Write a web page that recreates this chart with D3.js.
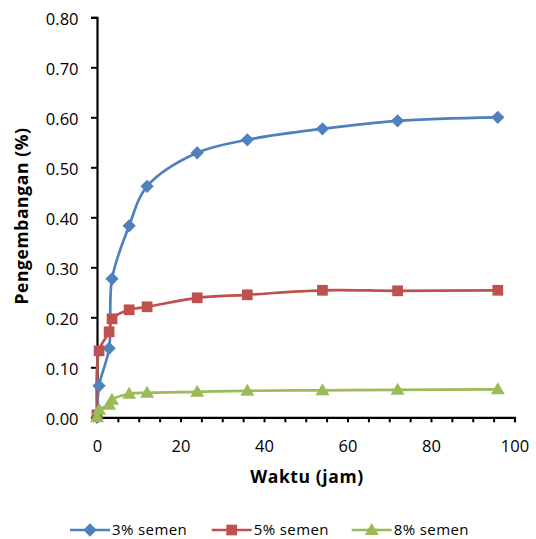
<!DOCTYPE html>
<html>
<head>
<meta charset="utf-8">
<script src="https://cdn.jsdelivr.net/npm/d3@7"></script>
<style>
  html, body { margin: 0; padding: 0; background: #fff; }
  svg { display: block; }
  text { font-family: "Open Sans", Lato, sans-serif; fill: #000; }
</style>
</head>
<body>
<div id="chart"></div>
<script>
// Waktu (jam) for each measurement
const hours = [0, 0.5, 2.9, 3.6, 7.7, 12, 24, 36, 54, 72, 96];

// Pengembangan (%) per cement content
const semen3 = [0.000, 0.063, 0.138, 0.277, 0.383, 0.462, 0.529, 0.555, 0.577, 0.593, 0.600];
const semen5 = [0.005, 0.133, 0.171, 0.197, 0.215, 0.221, 0.239, 0.245, 0.254, 0.253, 0.254];
const semen8 = [0.000, 0.015, 0.025, 0.035, 0.047, 0.049, 0.051, 0.053, 0.054, 0.055, 0.056];

const seriesNames = ["3% semen", "5% semen", "8% semen"];
const seriesColors = ["#4F81BD", "#C0504D", "#9BBB59"];
const seriesShapes = ["diamond", "square", "triangle"];

const xTicks = [0, 20, 40, 60, 80, 100];
const yTicks = [0, 0.1, 0.2, 0.3, 0.4, 0.5, 0.6, 0.7, 0.8];

const W = 536, H = 539;
const svg = d3.select("#chart").append("svg").attr("width", W).attr("height", H);

const x = d3.scaleLinear().domain([0, 100]).range([97, 514.5]);
const y = d3.scaleLinear().domain([0, 0.8]).range([417.3, 17.3]);

// y axis
const yAxis = svg.append("g").attr("transform", `translate(${x(0)},0)`)
  .call(d3.axisLeft(y).tickValues(yTicks).tickFormat(d3.format(".2f")).tickSize(6).tickPadding(12.5));
yAxis.select(".domain").attr("stroke", "#000").attr("stroke-width", 2.2);
yAxis.selectAll(".tick line").attr("stroke", "#000").attr("stroke-width", 2);
yAxis.selectAll(".tick text").style("font-size", "16.5px").attr("dy", "0.45em");

// x axis: minor ticks every 5, labels every 20
const xAxis = svg.append("g").attr("transform", `translate(0,${y(0)})`)
  .call(d3.axisBottom(x).tickValues(d3.range(0, 101, 5)).tickSize(5).tickPadding(17.5)
    .tickFormat(d => xTicks.includes(d) ? d3.format("d")(d) : ""));
xAxis.select(".domain").attr("stroke", "#000").attr("stroke-width", 2.2);
xAxis.selectAll(".tick line").attr("stroke", "#000").attr("stroke-width", 2);
xAxis.selectAll(".tick text").style("font-size", "16.5px");

// axis titles
svg.append("text").attr("x", 307).attr("y", 483).attr("text-anchor", "middle")
  .style("font-size", "17.5px").style("font-weight", "bold").style("letter-spacing", "0.6px")
  .text("Waktu (jam)");
svg.append("text").attr("transform", "translate(28,216) rotate(-90)").attr("text-anchor", "middle")
  .style("font-size", "17.5px").style("font-weight", "bold").style("letter-spacing", "0.6px")
  .text("Pengembangan (%)");

const symbolFor = {
  diamond: d3.symbol().type(d3.symbolSquare).size(88),
  square: d3.symbol().type(d3.symbolSquare).size(115),
  triangle: d3.symbol().type(d3.symbolTriangle).size(85)
};
function marker(g, shape, color) {
  const p = g.append("path").attr("d", symbolFor[shape]()).attr("fill", color);
  if (shape === "diamond") p.attr("transform", "rotate(45)");
  if (shape === "triangle") p.attr("transform", "translate(0,1)");
  return p;
}

const line = d3.line().x(d => x(d[0])).y(d => y(d[1])).curve(d3.curveCatmullRom.alpha(0.5));
const allSeries = [semen3, semen5, semen8];

allSeries.forEach((vals, i) => {
  const pts = hours.map((h, k) => [h, vals[k]]);
  svg.append("path").datum(pts).attr("d", line)
    .attr("fill", "none").attr("stroke", seriesColors[i]).attr("stroke-width", 2.7);
});
allSeries.forEach((vals, i) => {
  hours.forEach((h, k) => {
    const g = svg.append("g").attr("transform", `translate(${x(h)},${y(vals[k])})`);
    marker(g, seriesShapes[i], seriesColors[i]);
  });
});

// legend
const legendX = [70, 211.7, 351.7];
seriesNames.forEach((name, i) => {
  const g = svg.append("g").attr("transform", `translate(${legendX[i]},530)`);
  g.append("line").attr("x1", 0).attr("x2", 40).attr("y1", 0).attr("y2", 0)
    .attr("stroke", seriesColors[i]).attr("stroke-width", 2.7);
  const m = g.append("g").attr("transform", "translate(20,0)");
  marker(m, seriesShapes[i], seriesColors[i]);
  g.append("text").attr("x", 42).attr("y", 0).attr("dy", "0.36em")
    .style("font-size", "15px").style("letter-spacing", "0.4px").text(name);
});
</script>
</body>
</html>
